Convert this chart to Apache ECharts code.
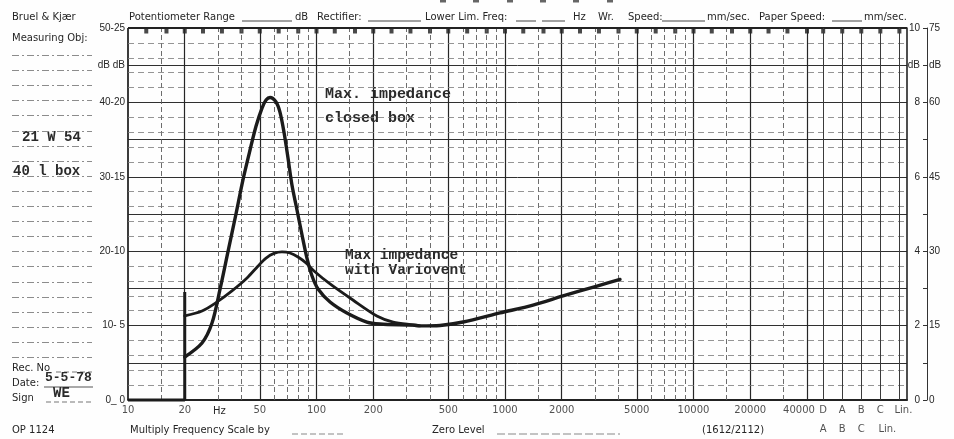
<!DOCTYPE html>
<html>
<head>
<meta charset="utf-8">
<title>Max. impedance – closed box / Variovent</title>
<script src="https://cdn.jsdelivr.net/npm/echarts@6/dist/echarts.min.js"></script>
<style>
  html, body { margin: 0; padding: 0; background: #fefefe; }
  #chart { width: 954px; height: 439px; }
</style>
</head>
<body>
<div id="chart"></div>
<script>
// ---- recorder paper: frequency grid (Hz) ----
const majorFreqs = [10, 20, 50, 100, 200, 500, 1000, 2000, 5000, 10000, 20000, 40000];
const minorFreqs = [15, 30, 40, 60, 70, 80, 90, 150, 300, 400, 600, 700, 800, 900,
                    1500, 3000, 4000, 6000, 7000, 8000, 9000, 15000, 30000];
const thirdOctaveFreqs = [12.5, 16, 20, 25, 31.5, 40, 50, 63, 80, 100, 125, 160, 200, 250, 315,
                          400, 500, 630, 800, 1000, 1250, 1600, 2000, 2500, 3150, 4000, 5000,
                          6300, 8000, 10000, 12500, 16000, 20000, 25000, 31500, 40000];
const freqTickValues = [10, 20, 50, 100, 200, 500, 1000, 2000, 5000, 10000, 20000, 40000];
const freqTickLabels = ['10', '20', '50', '100', '200', '500', '1000', '2000', '5000', '10000', '20000', '40000'];

// weighting-filter columns at the right end of the paper
const filterNames = ['D', 'A', 'B', 'C', 'Lin.'];
const filterNamesLower = ['A', 'B', 'C', 'Lin.'];

// ---- level scale (25 dB range) ----
const levelTicks = [0, 5, 10, 15, 20, 22.5, 25];
const leftTickLabels = ['0_ 0', '10- 5', '20-10', '30-15', '40-20', 'dB dB', '50-25'];
const rightInnerLabels = ['0', '2', '4', '6', '8', 'dB', '10'];
const rightOuterLabels = ['0', '15', '30', '45', '60', 'dB', '75'];
const minorLevels = [1, 2, 3, 4, 6, 7, 8, 9, 11, 12, 13, 14, 16, 17, 18, 19, 21, 22, 23, 24];

// ---- recorded curves: [frequency Hz, level dB] ----
const penTrace = [[10, 0], [20, 0], [20, 7.25]];
const closedBox = [
  [20, 2.89], [24.7, 3.83], [27.9, 5.17], [30.8, 7.46], [33.9, 9.95], [37.4, 12.5],
  [40.7, 14.78], [44.4, 16.8], [47.8, 18.41], [51.4, 19.62], [54.0, 20.16], [56.7, 20.33],
  [61.0, 20.03], [64.0, 19.35], [67.2, 18.01], [70.6, 16.26], [74.1, 14.45], [78.8, 12.77],
  [83.8, 11.09], [89.0, 9.54], [94.7, 8.33], [101.9, 7.46], [118, 6.59], [145, 5.85],
  [185, 5.24], [217, 5.11], [325, 5.03], [354, 4.98], [452, 5.01], [599, 5.24], [941, 5.85],
  [1408, 6.38], [2031, 6.99], [3077, 7.66], [4075, 8.1]
];
const variovent = [
  [20, 5.65], [24.7, 5.98], [29.7, 6.59], [35.6, 7.33], [42.8, 8.2], [49.0, 9.01],
  [54.0, 9.54], [59.5, 9.85], [65.6, 9.95], [72.3, 9.88], [79.8, 9.61], [88.0, 9.21],
  [97.0, 8.67], [118, 7.8], [156, 6.72], [209, 5.65], [255, 5.24], [325, 5.04], [354, 4.98]
];

const FREQ_MIN = 10, FREQ_MAX = 135700;
const INK = '#1b1b1b';
const SANS = '"DejaVu Sans", sans-serif';
const NUM = '"Liberation Sans", sans-serif';
const TYPE = '"Liberation Mono", monospace';

const chart = echarts.init(document.getElementById('chart'));

const lbl = (vals, names) => v => {
  const i = vals.indexOf(v);
  return i < 0 ? '' : names[i];
};

const gridMarkLines = [].concat(
  majorFreqs.map(f => ({ xAxis: f, lineStyle: { type: 'solid', width: f === 10 ? 1.8 : 1.2, color: '#262626' } })),
  minorFreqs.map(f => ({ xAxis: f, lineStyle: { type: [5, 3], width: 0.9, color: '#5c5c5c' } })),
  minorLevels.map(v => ({ yAxis: v, lineStyle: { type: [6, 4], width: 0.8, color: '#7a7a7a' } })),
  [{ yAxis: 25, lineStyle: { type: 'solid', width: 1.8, color: '#222' } }]
);

// text printed on the chart form
function txt(text, x, y, font, extra) {
  return {
    type: 'text', x: x, y: y, silent: true,
    style: Object.assign({ text: text, font: font, fill: '#262626',
      align: 'left', textAlign: 'left', verticalAlign: 'middle', textVerticalAlign: 'middle' }, extra || {})
  };
}
function rule(x1, y1, x2, y2, dash, color, width) {
  return { type: 'line', silent: true, shape: { x1: x1, y1: y1, x2: x2, y2: y2 },
    style: { stroke: color || '#555', lineWidth: width || 1, lineDash: dash || null } };
}

const F10 = '10px ' + SANS;
const TYPED = { fill: '#2a2a2a' };
const graphics = [
  txt('Bruel & Kjær', 12, 17, F10),
  txt('Potentiometer Range', 129, 17, F10),
  rule(242, 21, 292, 21, null, '#444'),
  txt('dB', 295, 17, F10),
  txt('Rectifier:', 317, 17, F10),
  rule(368, 21, 421, 21, null, '#444'),
  txt('Lower Lim. Freq:', 425, 17, F10),
  rule(516, 21, 536, 21, null, '#444'),
  rule(542, 21, 565, 21, null, '#444'),
  txt('Hz', 573, 17, F10),
  txt('Wr.', 598, 17, F10),
  txt('Speed:', 628, 17, F10),
  rule(662, 21, 705, 21, null, '#444'),
  txt('mm/sec.', 707, 17, F10),
  txt('Paper Speed:', 759, 17, F10),
  rule(832, 21, 862, 21, null, '#444'),
  txt('mm/sec.', 864, 17, F10),

  txt('Measuring Obj:', 12, 38, F10),
  txt('Rec. No', 12, 368, F10),
  rule(56, 372, 92, 372, [5, 3], '#777'),
  txt('Date:', 12, 383, F10),
  rule(44, 387, 93, 387, null, '#555'),
  txt('Sign', 12, 398, F10),
  rule(46, 402, 92, 402, [5, 3], '#777'),
  txt('OP 1124', 12, 430, F10),

  txt('Hz', 213, 411, F10),
  txt('Multiply Frequency Scale by', 130, 430, F10),
  rule(292, 434, 345, 434, [6, 3], '#888'),
  txt('Zero Level', 432, 430, F10),
  rule(497, 434, 620, 434, [8, 3], '#888'),
  txt('(1612/2112)', 702, 430, F10),

  // typed entries
  txt('21 W 54', 22, 137, 'bold 14px ' + TYPE, TYPED),
  txt('40 l box', 13, 171, 'bold 14px ' + TYPE, TYPED),
  txt('5-5-78', 45, 378, 'bold 13px ' + TYPE, TYPED),
  txt('WE', 53, 393, 'bold 14px ' + TYPE, TYPED),

  // curve captions
  txt('Max. impedance', 325, 94, 'bold 15px ' + TYPE, TYPED),
  txt('closed box', 325, 118, 'bold 15px ' + TYPE, TYPED),
  txt('Max impedance', 345, 255, 'bold 14.5px ' + TYPE, TYPED),
  txt('with Variovent', 345, 270, 'bold 14.5px ' + TYPE, TYPED)
];
// ruled entry rows of the form's left margin
for (let i = 0; i < 21; i++) {
  const y = Math.round(55 + i * 15.1) + 0.5;
  graphics.push(rule(12, y, 92, y, [7, 3, 2, 3], '#8c8c8c'));
}
// clipped print at the paper's top edge
[440, 473, 507, 540, 573, 607].forEach(x => {
  graphics.push({ type: 'rect', silent: true, shape: { x: x, y: 0, width: 6, height: 2.5 },
    style: { fill: '#666' } });
});

const option = {
  backgroundColor: '#fefefe',
  animation: false,
  grid: [
    { left: 128, right: 47, top: 28, bottom: 39 },
    { left: 807, right: 47, top: 28, bottom: 39 }
  ],
  xAxis: [
    { type: 'log', gridIndex: 0, min: FREQ_MIN, max: FREQ_MAX, logBase: 10,
      axisLine: { show: true, lineStyle: { color: '#222', width: 1.8 } },
      axisTick: { show: false }, axisLabel: { show: false }, splitLine: { show: false } },
    { type: 'value', gridIndex: 1, min: 0, max: 5.25,
      axisLine: { show: false }, axisTick: { show: false }, axisLabel: { show: false }, splitLine: { show: false } }
  ],
  yAxis: [
    { type: 'value', gridIndex: 0, min: 0, max: 25, interval: 2.5, position: 'left',
      axisLine: { show: false }, axisTick: { show: false },
      axisLabel: { margin: 3, fontSize: 10, fontFamily: NUM, color: '#262626',
        formatter: lbl(levelTicks, leftTickLabels) },
      splitLine: { show: true, lineStyle: { color: '#303030', width: 1 } } },
    { type: 'value', gridIndex: 0, min: 0, max: 25, interval: 2.5, position: 'right',
      axisLine: { show: true, lineStyle: { color: '#222', width: 1.6 } }, axisTick: { show: false },
      axisLabel: { margin: 13, align: 'right', fontSize: 10, fontFamily: NUM, color: '#262626',
        formatter: lbl(levelTicks, rightInnerLabels) },
      splitLine: { show: false } },
    { type: 'value', gridIndex: 0, min: 0, max: 25, interval: 2.5, position: 'right', offset: 20,
      axisLine: { show: true, lineStyle: { color: '#333', width: 1 } },
      axisTick: { show: true, inside: true, length: 4, lineStyle: { color: '#333' } },
      axisLabel: { margin: 2, fontSize: 10, fontFamily: NUM, color: '#262626',
        formatter: lbl(levelTicks, rightOuterLabels) },
      splitLine: { show: false } },
    { type: 'value', gridIndex: 1, min: 0, max: 25, show: false }
  ],
  graphic: graphics,
  series: [
    // frequency scale labels + the paper grid
    { type: 'scatter', xAxisIndex: 0, yAxisIndex: 0, clip: false, silent: true,
      symbolSize: 1, itemStyle: { color: 'rgba(0,0,0,0)' },
      data: freqTickValues.map((f, i) => ({ value: [f, 0],
        label: { formatter: freqTickLabels[i], offset: f === 40000 ? [-8, 0] : [0, 0] } })),
      label: { show: true, position: 'bottom', distance: 5, fontSize: 10, fontFamily: SANS, color: '#262626' },
      markLine: { silent: true, symbol: ['none', 'none'], label: { show: false },
        emphasis: { disabled: true }, animation: false, data: gridMarkLines } },
    // third-octave markers along the top edge
    { type: 'scatter', xAxisIndex: 0, yAxisIndex: 0, clip: false, silent: true,
      symbol: 'rect', symbolSize: [4, 5], symbolOffset: [0, 3], itemStyle: { color: INK },
      data: thirdOctaveFreqs.map(f => [f, 25]) },
    // weighting-filter columns
    { type: 'scatter', xAxisIndex: 1, yAxisIndex: 3, clip: false, silent: true,
      symbolSize: 1, itemStyle: { color: 'rgba(0,0,0,0)' },
      data: filterNames.map((n, i) => ({ value: [i + 0.85, 0],
        label: { formatter: n, offset: n === 'Lin.' ? [4, 0] : [0, 0] } })),
      label: { show: true, position: 'bottom', distance: 5, fontSize: 10, fontFamily: SANS, color: '#262626' },
      markLine: { silent: true, symbol: ['none', 'none'], label: { show: false },
        emphasis: { disabled: true }, animation: false,
        data: filterNames.map((n, i) => ({ xAxis: i + 0.85, lineStyle: { type: 'solid', width: 1, color: '#3a3a3a' } })) } },
    { type: 'scatter', xAxisIndex: 1, yAxisIndex: 3, clip: false, silent: true,
      symbolSize: 1, itemStyle: { color: 'rgba(0,0,0,0)' },
      data: filterNamesLower.map((n, i) => ({ value: [i + 0.85, 0],
        label: { formatter: n, offset: n === 'Lin.' ? [7, 0] : [0, 0] } })),
      label: { show: true, position: 'bottom', distance: 24, fontSize: 10, fontFamily: SANS, color: '#262626' } },
    { type: 'scatter', xAxisIndex: 1, yAxisIndex: 3, clip: false, silent: true,
      symbol: 'rect', symbolSize: [4, 5], symbolOffset: [0, 3], itemStyle: { color: INK },
      data: filterNames.map((n, i) => [i + 0.85, 25]) },

    // recorded impedance curves
    { name: 'pen', type: 'line', xAxisIndex: 0, yAxisIndex: 0, data: penTrace, z: 5,
      symbol: 'none', smooth: false, clip: false, lineStyle: { color: INK, width: 3 } },
    { name: 'Max. impedance closed box', type: 'line', xAxisIndex: 0, yAxisIndex: 0, data: closedBox, z: 5,
      symbol: 'none', smooth: 0.3, lineStyle: { color: INK, width: 3.4, cap: 'round', join: 'round' } },
    { name: 'Max impedance with Variovent', type: 'line', xAxisIndex: 0, yAxisIndex: 0, data: variovent, z: 5,
      symbol: 'none', smooth: 0.3, lineStyle: { color: INK, width: 2.8, cap: 'round', join: 'round' } }
  ]
};

chart.setOption(option);
</script>
</body>
</html>
